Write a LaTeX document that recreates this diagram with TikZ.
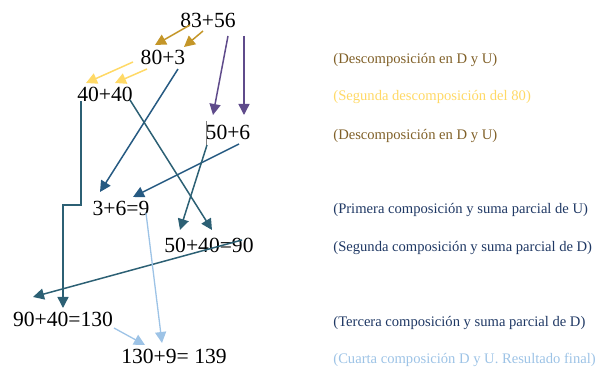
\documentclass[tikz,border=0pt]{standalone}
\usepackage{fontspec}
\setmainfont{Liberation Serif}
\usepackage{xcolor}
\usetikzlibrary{arrows.meta, calc}
\definecolor{goldarr}{RGB}{196,150,40}
\definecolor{yellowarr}{RGB}{255,217,102}
\definecolor{purplearr}{RGB}{95,75,139}
\definecolor{tealarr}{RGB}{44,96,116}
\definecolor{bluearr}{RGB}{38,90,130}
\definecolor{lightarr}{RGB}{157,195,230}
\definecolor{brownlbl}{RGB}{128,96,40}
\definecolor{navylbl}{RGB}{31,56,100}
\tikzset{
  sumnode/.style={inner sep=1pt, font=\fontsize{10.8}{12}\selectfont},
  note/.style={anchor=west, inner sep=0pt, font=\fontsize{7.3}{9}\selectfont},
  arr/.style={-{Triangle[length=5.5pt, width=5.5pt]}, line width=0.75pt}
}
\begin{document}
\begin{tikzpicture}[x=0.5pt, y=-0.5pt]
  \useasboundingbox (0,0) rectangle (596,368);
  % sums
  \node[sumnode] (n83) at (208,20) {83+56};
  \node[sumnode] (n80) at (163,57) {80+3};
  \node[sumnode] (n40) at (105,94) {40+40};
  \node[sumnode] (n50) at (228,132) {50+6};
  \node[sumnode] (n369) at (121,208) {3+6=9};
  \node[sumnode] (n5040) at (209,245) {50+40=90};
  \node[sumnode] (n9040) at (63,319) {90+40=130};
  \node[sumnode] (n139) at (174,356) {130+9= 139};
  % notes
  \node[note, text=brownlbl] (t1) at (333,60) {(Descomposición en D y U)};
  \node[note, text=yellowarr] (t2) at (333,97) {(Segunda descomposición del 80)};
  \node[note, text=brownlbl] (t3) at (333,136) {(Descomposición en D y U)};
  \node[note, text=navylbl] (t4) at (333,210) {(Primera composición y suma parcial de U)};
  \node[note, text=navylbl] (t5) at (333,248) {(Segunda composición y suma parcial de D)};
  \node[note, text=navylbl] (t6) at (333,323) {(Tercera composición y suma parcial de D)};
  \node[note, text=lightarr] (t7) at (333,360) {(Cuarta composición D y U. Resultado final)};
  % decompositions
  \draw[arr, goldarr] ($(n83)+(-18,5)$) -- ($(n80)+(-8,-12)$);
  \draw[arr, goldarr] ($(n83)+(-5,11)$) -- ($(n80)+(21,-10)$);
  \draw[arr, yellowarr] ($(n80)+(-30,5)$) -- ($(n40)+(-19,-11)$);
  \draw[arr, yellowarr] ($(n80)+(-16,12)$) -- ($(n40)+(10,-11)$);
  \draw[arr, purplearr] ($(n83)+(20,16)$) -- ($(n50)+(-15,-17)$);
  \draw[arr, purplearr] ($(n83)+(36,16)$) -- ($(n50)+(16,-17)$);
  \draw[gray, line width=0.4pt] ($(n50)+(-22,-11)$) -- ($(n50)+(-22,13)$);
  % compositions
  \draw[arr, bluearr] ($(n80)+(15,12)$) -- ($(n369)+(-21,-16)$);
  \draw[arr, bluearr] ($(n50)+(11,12)$) -- ($(n369)+(12,-11)$);
  \draw[arr, tealarr] ($(n40)+(25,6)$) -- ($(n5040)+(3,-15)$);
  \draw[arr, tealarr] ($(n50)+(-21,13)$) -- ($(n5040)+(-29,-15)$);
  \draw[arr, tealarr] ($(n40)+(-24,7)$) -- ++(0,104) -| ($(n9040)+(0,-11)$);
  \draw[arr, tealarr] ($(n5040)+(33,-5)$) -- ($(n9040)+(-30,-22)$);
  \draw[arr, lightarr, line width=0.65pt] ($(n369)+(25,5)$) -- ($(n139)+(-12,-13)$);
  \draw[arr, lightarr, line width=0.65pt] ($(n9040)+(51,9)$) -- ($(n139)+(-29,-11)$);
\end{tikzpicture}
\end{document}
